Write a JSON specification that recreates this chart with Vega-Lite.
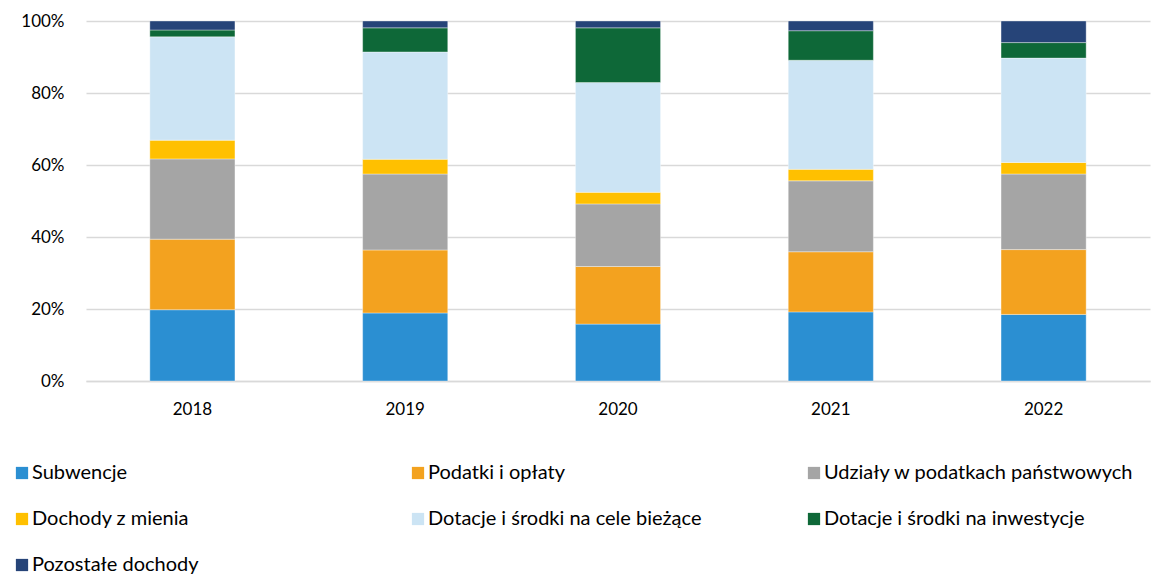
{
  "$schema": "https://vega.github.io/schema/vega-lite/v6.json",
  "width": 1064,
  "height": 360,
  "autosize": "none",
  "padding": {"left": 86, "top": 21, "right": 23, "bottom": 195},
  "background": "white",
  "config": {
    "font": "Lato",
    "view": {"stroke": null},
    "axis": {"labelFont": "Lato", "labelFontSize": 17, "labelColor": "#000000"}
  },
  "data": {
    "values": [
      {"year": "2018", "cat": "Subwencje", "k": 1, "v": 19.8},
      {"year": "2018", "cat": "Podatki i opłaty", "k": 2, "v": 19.6},
      {"year": "2018", "cat": "Udziały w podatkach państwowych", "k": 3, "v": 22.3},
      {"year": "2018", "cat": "Dochody z mienia", "k": 4, "v": 5.2},
      {"year": "2018", "cat": "Dotacje i środki na cele bieżące", "k": 5, "v": 28.7},
      {"year": "2018", "cat": "Dotacje i środki na inwestycje", "k": 6, "v": 1.9},
      {"year": "2018", "cat": "Pozostałe dochody", "k": 7, "v": 2.5},
      {"year": "2019", "cat": "Subwencje", "k": 1, "v": 18.9},
      {"year": "2019", "cat": "Podatki i opłaty", "k": 2, "v": 17.5},
      {"year": "2019", "cat": "Udziały w podatkach państwowych", "k": 3, "v": 21.1},
      {"year": "2019", "cat": "Dochody z mienia", "k": 4, "v": 4.1},
      {"year": "2019", "cat": "Dotacje i środki na cele bieżące", "k": 5, "v": 29.8},
      {"year": "2019", "cat": "Dotacje i środki na inwestycje", "k": 6, "v": 6.7},
      {"year": "2019", "cat": "Pozostałe dochody", "k": 7, "v": 1.9},
      {"year": "2020", "cat": "Subwencje", "k": 1, "v": 15.8},
      {"year": "2020", "cat": "Podatki i opłaty", "k": 2, "v": 16.0},
      {"year": "2020", "cat": "Udziały w podatkach państwowych", "k": 3, "v": 17.4},
      {"year": "2020", "cat": "Dochody z mienia", "k": 4, "v": 3.2},
      {"year": "2020", "cat": "Dotacje i środki na cele bieżące", "k": 5, "v": 30.5},
      {"year": "2020", "cat": "Dotacje i środki na inwestycje", "k": 6, "v": 15.2},
      {"year": "2020", "cat": "Pozostałe dochody", "k": 7, "v": 1.9},
      {"year": "2021", "cat": "Subwencje", "k": 1, "v": 19.2},
      {"year": "2021", "cat": "Podatki i opłaty", "k": 2, "v": 16.7},
      {"year": "2021", "cat": "Udziały w podatkach państwowych", "k": 3, "v": 19.7},
      {"year": "2021", "cat": "Dochody z mienia", "k": 4, "v": 3.2},
      {"year": "2021", "cat": "Dotacje i środki na cele bieżące", "k": 5, "v": 30.3},
      {"year": "2021", "cat": "Dotacje i środki na inwestycje", "k": 6, "v": 8.2},
      {"year": "2021", "cat": "Pozostałe dochody", "k": 7, "v": 2.7},
      {"year": "2022", "cat": "Subwencje", "k": 1, "v": 18.5},
      {"year": "2022", "cat": "Podatki i opłaty", "k": 2, "v": 18.0},
      {"year": "2022", "cat": "Udziały w podatkach państwowych", "k": 3, "v": 21.0},
      {"year": "2022", "cat": "Dochody z mienia", "k": 4, "v": 3.2},
      {"year": "2022", "cat": "Dotacje i środki na cele bieżące", "k": 5, "v": 29.0},
      {"year": "2022", "cat": "Dotacje i środki na inwestycje", "k": 6, "v": 4.3},
      {"year": "2022", "cat": "Pozostałe dochody", "k": 7, "v": 6.0}
    ]
  },
  "mark": {"type": "bar", "stroke": "#ffffff", "strokeWidth": 0.6, "strokeOpacity": 0.6},
  "encoding": {
    "x": {
      "field": "year", "type": "nominal",
      "scale": {"paddingInner": 0.6, "paddingOuter": 0.3},
      "axis": {"title": null, "labelAngle": 0, "ticks": false, "domain": true, "domainColor": "#D9D9D9", "domainWidth": 1.5, "labelPadding": 20}
    },
    "y": {
      "field": "v", "type": "quantitative", "stack": "normalize",
      "scale": {"domain": [0, 1], "nice": false},
      "axis": {"title": null, "format": ".0%", "values": [0, 0.2, 0.4, 0.6, 0.8, 1], "ticks": false, "domain": false, "gridColor": "#D9D9D9", "gridWidth": 1.5, "labelPadding": 22}
    },
    "order": {"field": "k", "type": "quantitative", "sort": "ascending"},
    "color": {
      "field": "cat", "type": "nominal",
      "scale": {
        "domain": ["Subwencje", "Podatki i opłaty", "Udziały w podatkach państwowych", "Dochody z mienia", "Dotacje i środki na cele bieżące", "Dotacje i środki na inwestycje", "Pozostałe dochody"],
        "range": ["#2B8FD2", "#F3A21F", "#A5A5A5", "#FFC000", "#CCE4F4", "#0E6838", "#264478"]
      },
      "legend": {
        "title": null, "orient": "none", "legendX": -74, "legendY": 442,
        "direction": "horizontal", "columns": 3, "gridAlign": "all",
        "columnPadding": 66, "rowPadding": 26,
        "symbolType": "square", "symbolSize": 150, "symbolStrokeWidth": 0,
        "labelFont": "Lato", "labelFontSize": 20, "labelColor": "#000000", "labelOffset": 0, "labelLimit": 400
      }
    }
  }
}
